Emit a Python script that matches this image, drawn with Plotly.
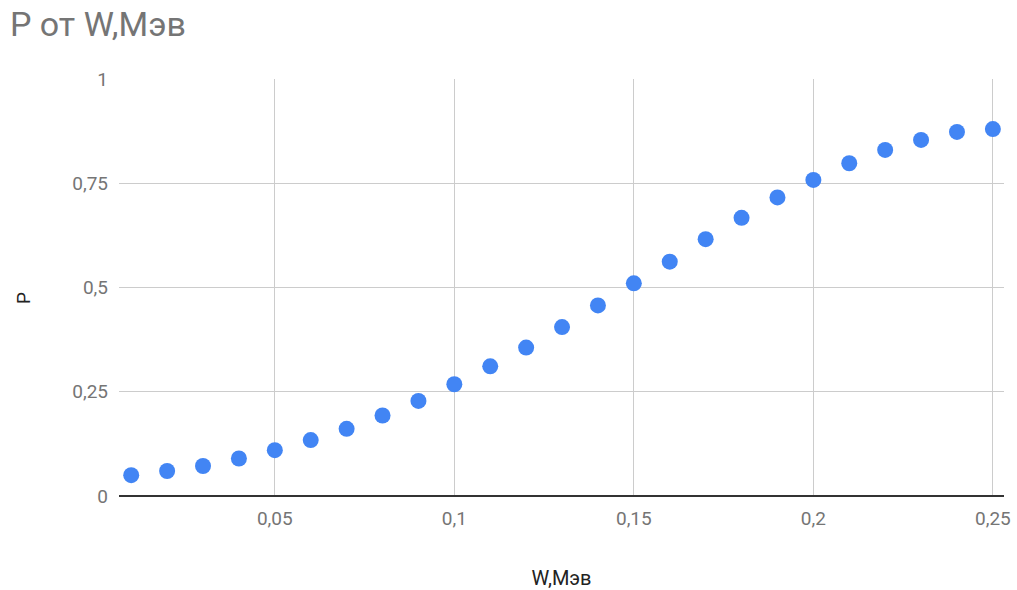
import plotly.graph_objects as go

w_mev = [0.01, 0.02, 0.03, 0.04, 0.05, 0.06, 0.07, 0.08, 0.09, 0.10,
         0.11, 0.12, 0.13, 0.14, 0.15, 0.16, 0.17, 0.18, 0.19, 0.20,
         0.21, 0.22, 0.23, 0.24, 0.25]
p_vals = [0.050, 0.060, 0.072, 0.090, 0.110, 0.134, 0.161, 0.193, 0.228, 0.268,
          0.311, 0.356, 0.405, 0.457, 0.510, 0.562, 0.616, 0.667, 0.716, 0.758,
          0.798, 0.830, 0.854, 0.873, 0.880]

fig = go.Figure()
fig.add_trace(go.Scatter(
    x=w_mev, y=p_vals, mode="markers",
    marker=dict(color="#4285F4", size=16, line=dict(width=0)),
    showlegend=False, cliponaxis=False,
))

fig.add_annotation(
    text="P", xref="paper", yref="paper", x=-0.1085, y=0.4748,
    xanchor="center", yanchor="middle", textangle=-90, showarrow=False,
    font=dict(family="Roboto", size=19, color="#222222"),
)

fig.update_layout(
    width=1017, height=590,
    paper_bgcolor="white", plot_bgcolor="white",
    separators=", ",
    font=dict(family="Roboto", color="#757575"),
    margin=dict(l=119, r=13, t=79, b=94),
    title=dict(text="P от W,Мэв", x=0.0098, xanchor="left", y=0.960, yanchor="middle",
               font=dict(family="Roboto", size=34, color="#757575")),
    xaxis=dict(
        title=dict(text="W,Мэв", font=dict(family="Roboto", size=20, color="#222222"), standoff=41),
        automargin=False,
        range=[0.0066, 0.2531], tick0=0, dtick=0.05,
        showgrid=True, gridcolor="#cccccc", gridwidth=1,
        zeroline=False, showline=False, ticks="", ticklabelstandoff=9,
        tickfont=dict(size=19, color="#757575"),
    ),
    yaxis=dict(
        automargin=False,
        range=[0, 1], tick0=0, dtick=0.25,
        showgrid=True, gridcolor="#cccccc", gridwidth=1,
        zeroline=True, zerolinecolor="#333333", zerolinewidth=2,
        showline=False, ticks="", ticklabelstandoff=10,
        tickfont=dict(size=19, color="#757575"),
    ),
)

fig.write_html("out.html", config={"displayModeBar": False},
               post_script="document.body.style.margin='0';")
